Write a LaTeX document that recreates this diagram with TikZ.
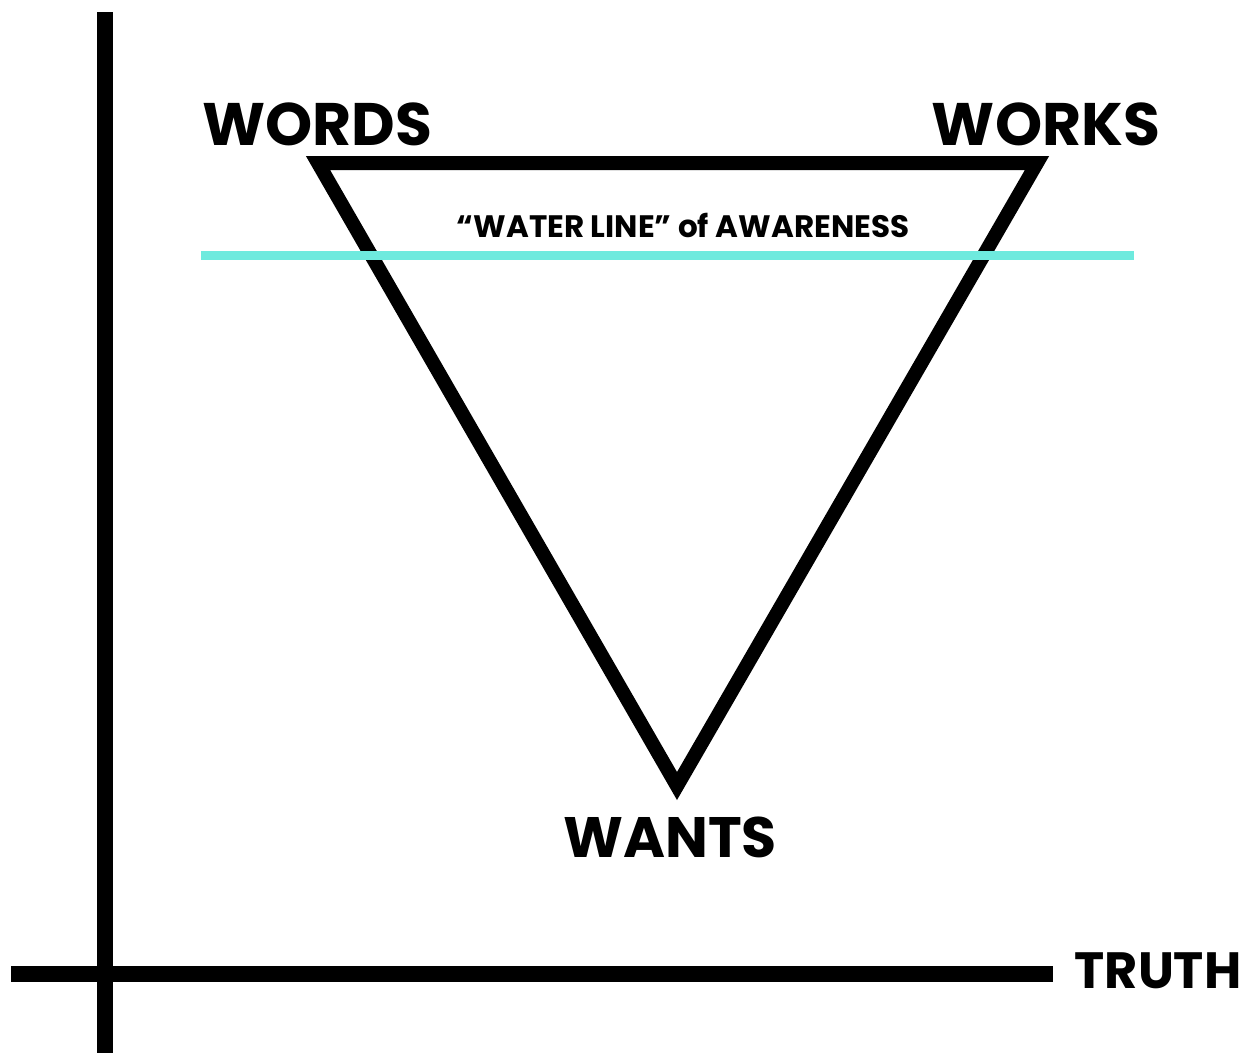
\documentclass[tikz,border=0pt]{standalone}
\usepackage{fontspec}
\setmainfont{Poppins}
\usetikzlibrary{positioning}
\definecolor{waterblue}{RGB}{110, 234, 222}

\begin{document}
\begin{tikzpicture}[x=1pt, y=-1pt,
    axis/.style={line width=16pt},
    tag/.style={inner sep=0pt, anchor=base, font=\fontsize{60}{60}\selectfont\bfseries}]
  \useasboundingbox (0,0) rectangle (1257,1053);

  % Axes
  \coordinate (ytop) at (105,12);
  \coordinate (ybot) at (105,1053);
  \coordinate (xleft) at (11,974);
  \coordinate (xright) at (1053,974);
  \draw[axis] (ytop) -- (ybot);
  \draw[axis] (xleft) -- (xright);
  \node[tag, font=\fontsize{51}{51}\selectfont\bfseries] (truth) at (1158,988) {TRUTH};

  % Triangle of the three W's
  \coordinate (wl) at (318,163);
  \coordinate (wr) at (1037,163);
  \coordinate (wb) at (677,786);
  \draw[line width=14pt, miter limit=4] (wl) -- (wr) -- (wb) -- cycle;
  \node[tag] (words) at (317,145) {WORDS};
  \node[tag] (works) at (1046,145) {WORKS};
  \node[tag, font=\fontsize{57}{57}\selectfont\bfseries] (wants) at (670,857) {WANTS};

  % Water line
  \coordinate (wll) at (201,255);
  \coordinate (wlr) at (1134,255);
  \draw[waterblue, line width=9pt] (wll) -- (wlr);
  \node[tag, font=\fontsize{31}{31}\selectfont\bfseries] (aware) at (683,237)
    {“WATER LINE” of AWARENESS};
\end{tikzpicture}
\end{document}
